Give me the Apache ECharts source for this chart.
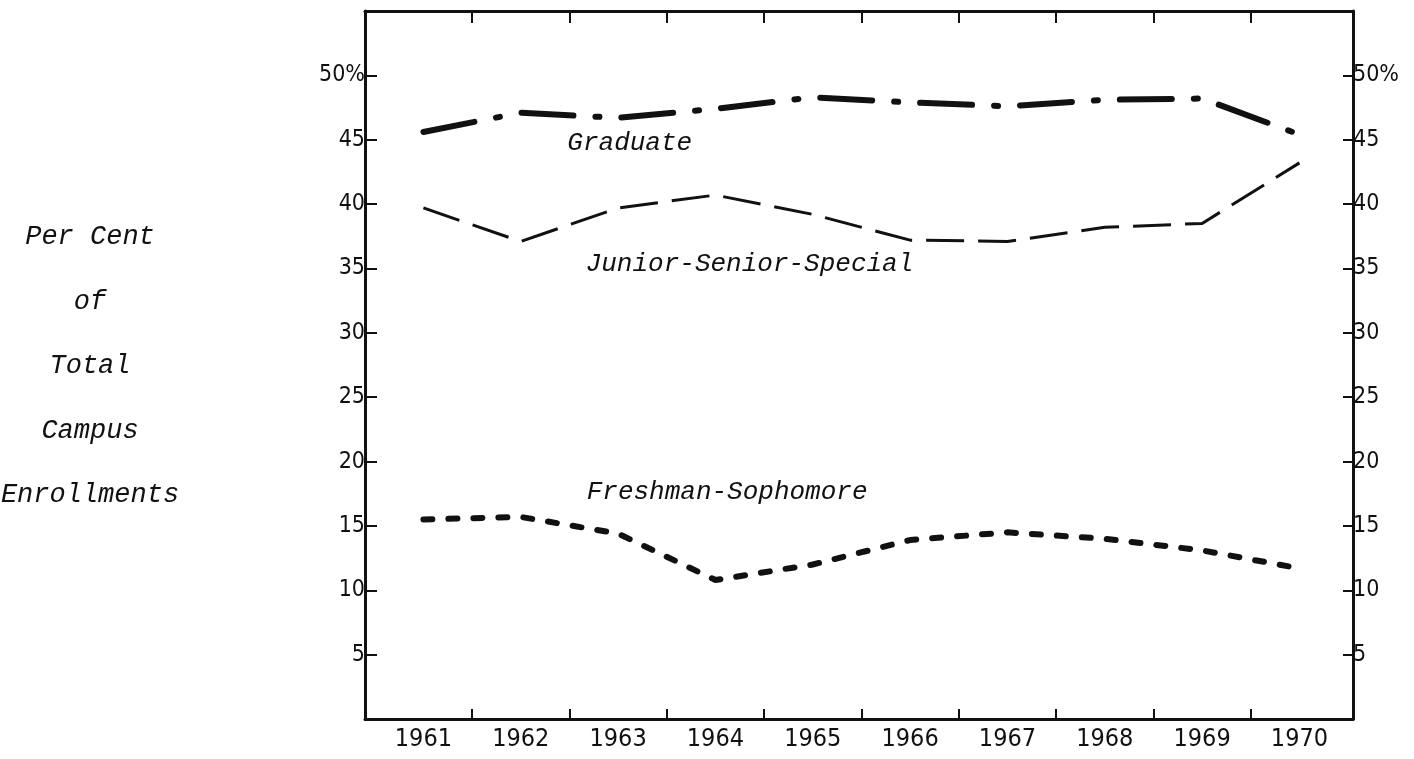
<!DOCTYPE html>
<html lang="en">
<head>
    <meta charset="UTF-8">
    <title>Per Cent of Total Campus Enrollments</title>
    <script src="https://cdn.jsdelivr.net/npm/echarts@6/dist/echarts.min.js"></script>
    <style>
        body { margin: 0; background: #fff; }
    </style>
</head>
<body>
    <div id="main" style="width:1414px;height:759px;"></div>

    <script>
        // data
        const years = [1961, 1962, 1963, 1964, 1965, 1966, 1967, 1968, 1969, 1970];
        const graduate = [45.6, 47.1, 46.7, 47.4, 48.3, 47.9, 47.6, 48.1, 48.2, 45.4];
        const juniorSenior = [39.7, 37.1, 39.7, 40.7, 39.2, 37.2, 37.1, 38.2, 38.5, 43.2];
        const freshSoph = [15.5, 15.7, 14.4, 10.8, 12.0, 13.9, 14.5, 14.0, 13.1, 11.7];
        // tick marks sit between the years
        const yearTicks = [1961.5, 1962.5, 1963.5, 1964.5, 1965.5, 1966.5, 1967.5, 1968.5, 1969.5];
        const yTitle = ['Per Cent', 'of', 'Total', 'Campus', 'Enrollments'];

        const numFont = "'DejaVu Sans Condensed', 'DejaVu Sans', sans-serif";
        const typeFont = "'Liberation Mono', 'Courier New', monospace";
        const ink = '#111';

        function pairs(vals) {
            return years.map(function (y, i) { return [y, vals[i]]; });
        }

        function tag(text, coord) {
            return {
                symbol: 'circle',
                symbolSize: 1,
                itemStyle: { color: 'rgba(0,0,0,0)' },
                label: {
                    show: true,
                    position: 'inside',
                    formatter: text,
                    fontFamily: typeFont,
                    fontStyle: 'italic',
                    fontSize: 26,
                    color: ink
                },
                data: [{ coord: coord }]
            };
        }

        const yLabel = function (v) {
            if (v === 50) return '50%';
            if (v === 0 || v === 55) return '';
            return String(v);
        };

        const axisLine = { show: true, onZero: false, lineStyle: { color: ink, width: 3 } };

        const option = {
            animation: false,
            grid: { left: 365, top: 11, width: 988, height: 708 },
            graphic: [{
                type: 'text',
                x: 90,
                y: 366,
                style: {
                    text: yTitle.join('\n'),
                    font: 'italic 27px ' + typeFont,
                    lineHeight: 64.5,
                    fill: ink,
                    textAlign: 'center',
                    textVerticalAlign: 'middle'
                }
            }],
            xAxis: [
                {
                    type: 'value',
                    min: 1960.4,
                    max: 1970.55,
                    position: 'bottom',
                    axisLine: axisLine,
                    axisTick: { show: true, inside: true, length: 10, customValues: yearTicks,
                        lineStyle: { color: ink, width: 2 } },
                    axisLabel: { customValues: years, formatter: function (v) { return String(v); },
                        fontFamily: numFont, fontSize: 25, color: ink, margin: 8 },
                    splitLine: { show: false }
                },
                {
                    type: 'value',
                    min: 1960.4,
                    max: 1970.55,
                    position: 'top',
                    axisLine: axisLine,
                    axisTick: { show: true, inside: true, length: 12, customValues: yearTicks,
                        lineStyle: { color: ink, width: 2 } },
                    axisLabel: { show: false },
                    splitLine: { show: false }
                }
            ],
            yAxis: [
                {
                    type: 'value',
                    min: 0,
                    max: 55,
                    interval: 5,
                    position: 'left',
                    axisLine: axisLine,
                    axisTick: { show: true, inside: true, length: 12, lineStyle: { color: ink, width: 2 } },
                    axisLabel: { formatter: yLabel, fontFamily: numFont, fontSize: 23, color: ink, margin: 0 },
                    splitLine: { show: false }
                },
                {
                    type: 'value',
                    min: 0,
                    max: 55,
                    interval: 5,
                    position: 'right',
                    axisLine: axisLine,
                    axisTick: { show: true, inside: true, length: 10, lineStyle: { color: ink, width: 2 } },
                    axisLabel: { formatter: yLabel, fontFamily: numFont, fontSize: 23, color: ink, margin: 0 },
                    splitLine: { show: false }
                }
            ],
            series: [
                {
                    name: 'Graduate',
                    type: 'line',
                    showSymbol: false,
                    lineStyle: { color: ink, width: 6, type: [52, 22, 4, 22], cap: 'round' },
                    data: pairs(graduate),
                    markPoint: tag('Graduate', [1963.12, 44.7])
                },
                {
                    name: 'Junior-Senior-Special',
                    type: 'line',
                    showSymbol: false,
                    lineStyle: { color: ink, width: 3, type: [38, 14] },
                    data: pairs(juniorSenior),
                    markPoint: tag('Junior-Senior-Special', [1964.35, 35.3])
                },
                {
                    name: 'Freshman-Sophomore',
                    type: 'line',
                    showSymbol: false,
                    lineStyle: { color: ink, width: 6, type: [9, 16], cap: 'round' },
                    data: pairs(freshSoph),
                    markPoint: tag('Freshman-Sophomore', [1964.12, 17.65])
                }
            ]
        };

        var myChart = echarts.init(document.getElementById('main'));
        myChart.setOption(option);
    </script>
</body>
</html>
